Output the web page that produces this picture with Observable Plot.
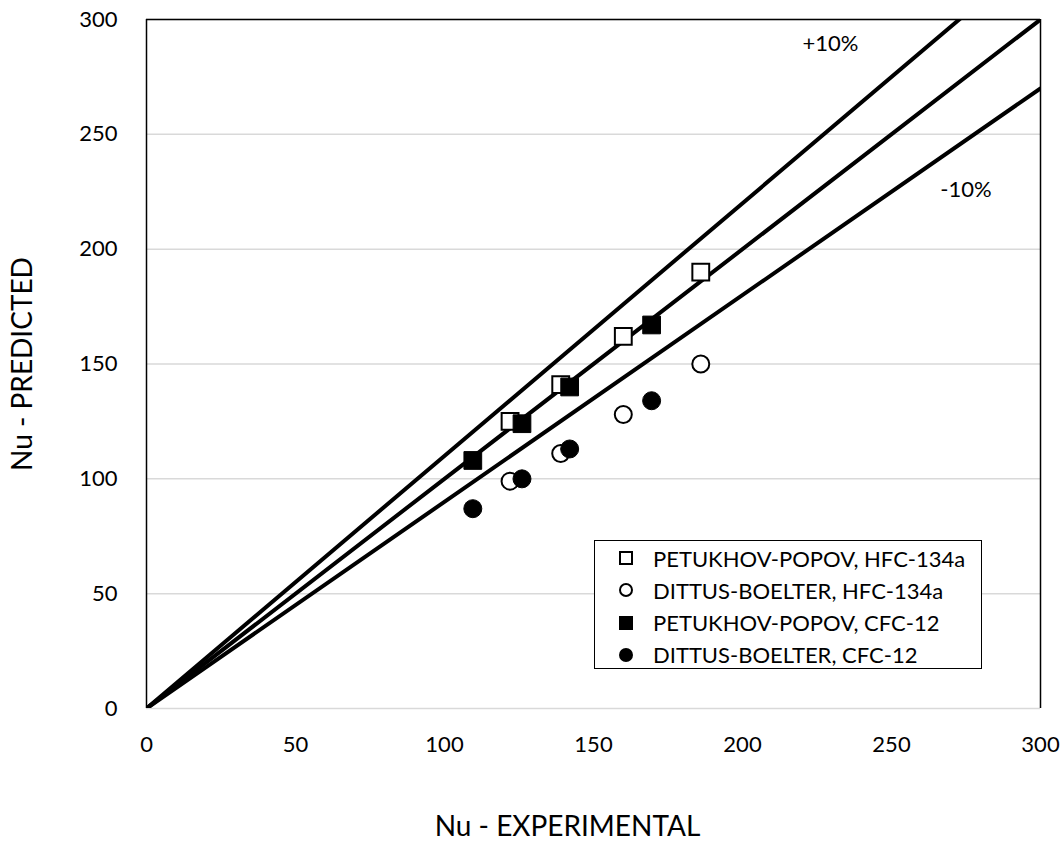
<!DOCTYPE html>
<html>
<head>
<meta charset="utf-8">
<script src="https://cdn.jsdelivr.net/npm/d3@7"></script>
<script src="https://cdn.jsdelivr.net/npm/@observablehq/plot@0.6"></script>
<style>
  html, body { margin: 0; padding: 0; background: #fff; }
  #wrap { position: relative; width: 1063px; height: 842px; font-family: Lato, "Open Sans", sans-serif; }
  #legend { position: absolute; left: 594px; top: 540px; width: 388px; height: 129px; border: 1.5px solid #000; background: #fff; box-sizing: border-box; }
  .row { position: absolute; left: 0; height: 32px; display: flex; align-items: center; font-size: 22px; color: #000; white-space: nowrap; }
  .row svg { margin-left: 23px; margin-right: 19px; }
</style>
</head>
<body>
<div id="wrap"><div id="chart"></div><div id="legend"></div></div>
<script>
// Data
const ppHfcX = [122, 139, 160, 186];
const ppHfcY = [125, 141, 162, 190];
const dbHfcX = [122, 139, 160, 186];
const dbHfcY = [99, 111, 128, 150];
const ppCfcX = [109.5, 126, 142, 169.5];
const ppCfcY = [108, 124, 140, 167];
const dbCfcX = [109.5, 126, 142, 169.5];
const dbCfcY = [87, 100, 113, 134];

const seriesNames = ["PETUKHOV-POPOV, HFC-134a", "DITTUS-BOELTER, HFC-134a", "PETUKHOV-POPOV, CFC-12", "DITTUS-BOELTER, CFC-12"];

// Reference lines (perfect agreement and ±10%)
const refX = [0, 300];
const plus10Y = [0, 330];
const equalY = [0, 300];
const minus10Y = [0, 270];

const bandLabels = ["+10%", "-10%"];
const bandLabelX = [229.5, 275];
const bandLabelY = [289.5, 226];

const xTicks = [0, 50, 100, 150, 200, 250, 300];
const yTicks = [0, 50, 100, 150, 200, 250, 300];

const xTitle = "Nu - EXPERIMENTAL";
const yTitle = "Nu - PREDICTED";

const toPts = (xs, ys) => xs.map((x, i) => ({x, y: ys[i]}));

const chart = Plot.plot({
  width: 1063,
  height: 842,
  marginLeft: 146,
  marginTop: 19,
  marginRight: 23,
  marginBottom: 134,
  style: {fontFamily: "Lato, 'Open Sans', sans-serif", fontSize: "22px", color: "#000", background: "#fff"},
  x: {domain: [0, 300], ticks: xTicks},
  y: {domain: [0, 300], ticks: yTicks},
  marks: [
    Plot.gridY(yTicks, {stroke: "#d9d9d9", strokeOpacity: 1, strokeWidth: 1.5}),
    Plot.axisX(xTicks, {tickSize: 0, tickPadding: 28, label: null, fontSize: 22}),
    Plot.axisY(yTicks, {tickSize: 0, tickPadding: 29, label: null, fontSize: 22}),
    Plot.axisY([], {tickSize: 0, label: yTitle, labelAnchor: "center", labelArrow: "none", labelOffset: 134, fontSize: 28}),
    Plot.ruleX([0, 300], {stroke: "#000", strokeWidth: 1.5}),
    Plot.ruleY([300], {stroke: "#000", strokeWidth: 1.5}),
    Plot.line(toPts(refX, plus10Y), {x: "x", y: "y", stroke: "#000", strokeWidth: 4, clip: true}),
    Plot.line(toPts(refX, equalY), {x: "x", y: "y", stroke: "#000", strokeWidth: 4, clip: true}),
    Plot.line(toPts(refX, minus10Y), {x: "x", y: "y", stroke: "#000", strokeWidth: 4, clip: true}),
    Plot.text(bandLabels, {x: (d, i) => bandLabelX[i], y: (d, i) => bandLabelY[i], text: d => d, fontSize: 22, fill: "#000"}),
    Plot.dot(toPts(ppHfcX, ppHfcY), {x: "x", y: "y", symbol: "square", r: 9.5, fill: "#fff", stroke: "#000", strokeWidth: 2}),
    Plot.dot(toPts(dbHfcX, dbHfcY), {x: "x", y: "y", symbol: "circle", r: 8.5, fill: "#fff", stroke: "#000", strokeWidth: 2}),
    Plot.dot(toPts(ppCfcX, ppCfcY), {x: "x", y: "y", symbol: "square", r: 10, fill: "#000", stroke: "#000", strokeWidth: 1}),
    Plot.dot(toPts(dbCfcX, dbCfcY), {x: "x", y: "y", symbol: "circle", r: 9, fill: "#000", stroke: "#000", strokeWidth: 1}),
    Plot.text([xTitle], {frameAnchor: "bottom", dx: -26, dy: 127, fontSize: 28, fill: "#000"})
  ]
});
document.getElementById("chart").appendChild(chart);

// Legend
const symbols = [
  '<rect x="2" y="2" width="12" height="12" fill="#fff" stroke="#000" stroke-width="2"/>',
  '<circle cx="8" cy="8" r="6" fill="#fff" stroke="#000" stroke-width="2"/>',
  '<rect x="1" y="1" width="14" height="14" fill="#000"/>',
  '<circle cx="8" cy="8" r="7" fill="#000"/>'
];
const legend = document.getElementById("legend");
seriesNames.forEach((name, i) => {
  const row = document.createElement("div");
  row.className = "row";
  row.style.top = (1 + i * 32.3) + "px";
  row.innerHTML = `<svg width="16" height="16" viewBox="0 0 16 16">${symbols[i]}</svg><span>${name}</span>`;
  legend.appendChild(row);
});
</script>
</body>
</html>
